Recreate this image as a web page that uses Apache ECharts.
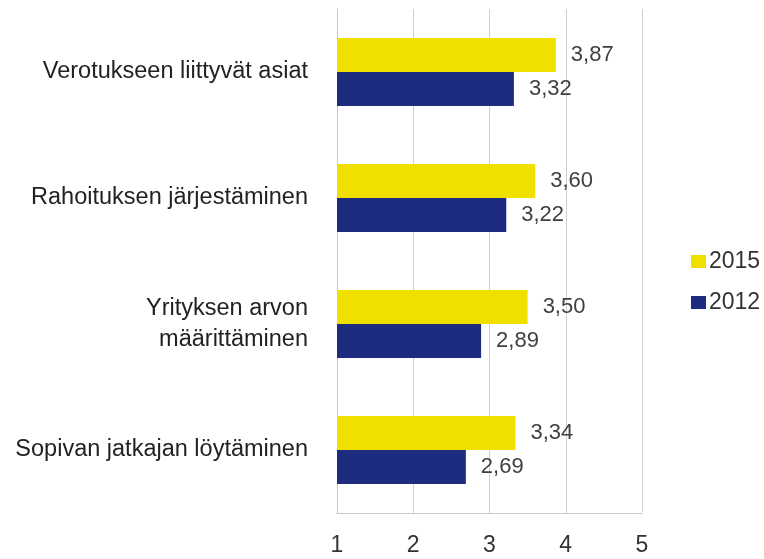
<!DOCTYPE html>
<html lang="fi">
<head>
    <meta charset="UTF-8">
    <title>ECharts</title>
    <script src="https://cdn.jsdelivr.net/npm/echarts@6/dist/echarts.min.js"></script>
    <style>
        html, body { margin: 0; padding: 0; background: #fff; }
    </style>
</head>
<body>
    <div id="main" style="width:764px;height:559px;"></div>
    <script>
        // data
        var categories = ['Verotukseen liittyvät asiat', 'Rahoituksen järjestäminen', 'Yrityksen arvon\nmäärittäminen', 'Sopivan jatkajan löytäminen'];
        var values2015 = [3.87, 3.60, 3.50, 3.34];
        var values2012 = [3.32, 3.22, 2.89, 2.69];
        var seriesNames = ['2015', '2012'];
        var xTicks = [1, 2, 3, 4, 5];

        var fmt = function (p) {
            return p.value.toFixed(2).replace('.', ',');
        };

        var myChart = echarts.init(document.getElementById('main'));
        var option = {
            animation: false,
            textStyle: { fontFamily: 'Liberation Sans, Arial, sans-serif' },
            grid: { left: 337, right: 122, top: 9, bottom: 46, containLabel: false, outerBoundsMode: 'none' },
            legend: {
                data: seriesNames,
                orient: 'vertical',
                left: 686,
                top: 245,
                itemWidth: 15,
                itemHeight: 13,
                itemGap: 18,
                icon: 'rect',
                textStyle: { fontSize: 23, color: '#333', padding: [0, 0, 0, -2] }
            },
            xAxis: {
                type: 'value',
                min: xTicks[0],
                max: xTicks[xTicks.length - 1],
                interval: 1,
                axisLine: { show: true, lineStyle: { color: '#c8c8c8' } },
                axisTick: { show: false },
                axisLabel: { fontSize: 23, color: '#333', margin: 21 },
                splitLine: { show: true, lineStyle: { color: '#cfcfcf' } }
            },
            yAxis: {
                type: 'category',
                inverse: true,
                data: categories,
                axisLine: { show: true, lineStyle: { color: '#c8c8c8' } },
                axisTick: { show: false },
                axisLabel: { fontSize: 23.5, color: '#222', margin: 29, lineHeight: 31 }
            },
            series: [{
                name: seriesNames[0],
                type: 'bar',
                data: values2015,
                barWidth: 34,
                barGap: '0%',
                itemStyle: { color: '#EFE000' },
                label: { show: true, position: 'right', distance: 15, formatter: fmt, fontSize: 22, color: '#404040' }
            }, {
                name: seriesNames[1],
                type: 'bar',
                data: values2012,
                barWidth: 34,
                barGap: '0%',
                itemStyle: { color: '#1D2C7E' },
                label: { show: true, position: 'right', distance: 15, formatter: fmt, fontSize: 22, color: '#404040' }
            }]
        };
        myChart.setOption(option);
    </script>
</body>
</html>
